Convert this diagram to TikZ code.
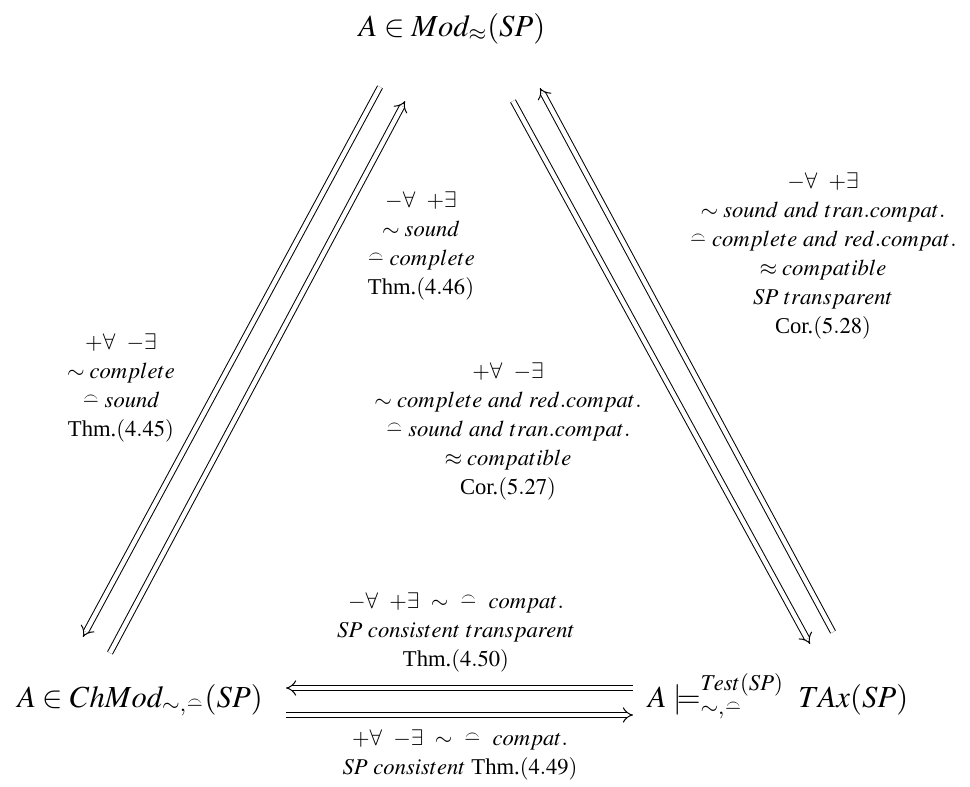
\documentclass[tikz,border=0pt]{standalone}
\usepackage{mathptmx}
\usepackage{fontspec}
\setmainfont{Liberation Serif}
\usetikzlibrary{arrows.meta}
\newcommand{\obsA}{\mathrel{\hbox{\ooalign{$-$\cr\hidewidth\raise.62ex\hbox{\scalebox{0.62}[0.75]{$\frown$}}\hidewidth\cr}}}}
\newcommand{\obsB}{\hbox{\ooalign{$\scriptstyle-$\cr\hidewidth\raise.45ex\hbox{\scalebox{0.45}[0.55]{$\frown$}}\hidewidth\cr}}}
\begin{document}
\begin{tikzpicture}[x=0.5pt,y=-0.5pt,
  big/.style={font=\fontsize{15.3}{18}\selectfont, inner sep=0pt},
  lbl/.style={align=center, font=\fontsize{11.3}{14.5}\selectfont, inner sep=0pt},
  dbl/.style={double, double distance=2.2pt, line width=0.5pt, -{Implies}}]
\useasboundingbox (0,0) rectangle (970,787);

% main nodes
\node[big, anchor=base] (top) at (452,36) {$A\in Mod_{\approx}(SP)$};
\node[big, anchor=base] (left) at (140,707) {$A\in ChMod_{\sim,\obsB}(SP)$};
\node[big, anchor=base] (right) at (778,707) {$A\models^{Test(SP)}_{\sim,\obsB}\ TAx(SP)$};

% arrow end points
\coordinate (a1s) at (380,87);  \coordinate (a1e) at (83,637);
\coordinate (a2s) at (110,653); \coordinate (a2e) at (405,101);
\coordinate (b1s) at (513,101); \coordinate (b1e) at (810,644);
\coordinate (b2s) at (833,632); \coordinate (b2e) at (540,88);
\coordinate (h1s) at (633,688); \coordinate (h1e) at (286,688);
\coordinate (h2s) at (286,715); \coordinate (h2e) at (633,715);

\draw[dbl] (a1s) -- (a1e);
\draw[dbl] (a2s) -- (a2e);
\draw[dbl] (b1s) -- (b1e);
\draw[dbl] (b2s) -- (b2e);
\draw[dbl] (h1s) -- (h1e);
\draw[dbl] (h2s) -- (h2e);

% labels
\node[lbl] (l1) at (121,388) {$+\forall$\ \ $-\exists$\\ $\sim complete$\\ $\obsA sound$\\ Thm.$(4.45)$};
\node[lbl] (l2) at (421,246) {$-\forall$\ \ $+\exists$\\ $\sim sound$\\ $\obsA complete$\\ Thm.$(4.46)$};
\node[lbl] (l3) at (508,431) {$+\forall$\ \ $-\exists$\\ $\sim complete\ and\ red.compat.$\\ $\obsA sound\ and\ tran.compat.$\\ $\approx compatible$\\ Cor.$(5.27)$};
\node[lbl] (l4) at (823,256) {$-\forall$\ \ $+\exists$\\ $\sim sound\ and\ tran.compat.$\\ $\obsA complete\ and\ red.compat.$\\ $\approx compatible$\\ $SP\ transparent$\\ Cor.$(5.28)$};
\node[lbl] (l5) at (456,632) {$-\forall$\ \ $+\exists$\ \ $\sim$\ \ $\obsA$\ \ $compat.$\\ $SP\ consistent\ transparent$\\ Thm.$(4.50)$};
\node[lbl] (l6) at (460,755) {$+\forall$\ \ $-\exists$\ \ $\sim$\ \ $\obsA$\ \ $compat.$\\ $SP\ consistent$ Thm.$(4.49)$};
\end{tikzpicture}
\end{document}
